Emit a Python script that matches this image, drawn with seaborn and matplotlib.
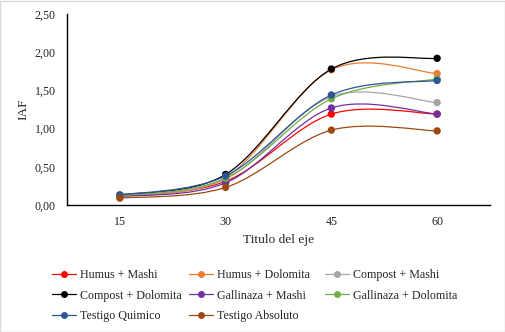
import numpy as np
import pandas as pd
import seaborn as sns
import matplotlib.pyplot as plt
from matplotlib.path import Path
from matplotlib.patches import PathPatch, Rectangle
from matplotlib.lines import Line2D

# Days after planting and leaf area index per treatment
dias = ["15", "30", "45", "60"]
humus_mashi = [0.12, 0.31, 1.19, 1.19]
humus_dolomita = [0.12, 0.36, 1.77, 1.72]
compost_mashi = [0.12, 0.34, 1.42, 1.34]
compost_dolomita = [0.13, 0.40, 1.78, 1.92]
gallinaza_mashi = [0.11, 0.29, 1.27, 1.19]
gallinaza_dolomita = [0.12, 0.35, 1.39, 1.65]
testigo_quimico = [0.13, 0.38, 1.44, 1.63]
testigo_absoluto = [0.09, 0.23, 0.98, 0.97]

tratamientos = ["Humus + Mashi", "Humus + Dolomita", "Compost + Mashi",
                "Compost + Dolomita", "Gallinaza + Mashi", "Gallinaza + Dolomita",
                "Testigo Quimico", "Testigo Absoluto"]
series = [humus_mashi, humus_dolomita, compost_mashi, compost_dolomita,
          gallinaza_mashi, gallinaza_dolomita, testigo_quimico, testigo_absoluto]
colores = ["#FF0000", "#ED7D31", "#A5A5A5", "#000000",
           "#7030A0", "#70AD47", "#2F5597", "#9E480E"]

df = pd.DataFrame([
    {"dia": d, "tratamiento": t, "IAF": v}
    for t, vals in zip(tratamientos, series)
    for d, v in zip(dias, vals)
])

sns.set_style("white")
plt.rcParams["font.family"] = ["Liberation Serif", "DejaVu Serif"]
FS = 8.64

fig = plt.figure(figsize=(5.06, 3.32), dpi=100)
ax = fig.add_axes([67 / 506, 1 - 205 / 332, 423 / 506, 191 / 332])

palette = dict(zip(tratamientos, colores))

# Smoothed connecting lines (Catmull-Rom as cubic Bezier segments)
def smooth_path(xs, ys):
    pts = np.column_stack([xs, ys]).astype(float)
    ext = np.vstack([pts[0], pts, pts[-1]])
    verts = [tuple(pts[0])]
    codes = [Path.MOVETO]
    for i in range(len(pts) - 1):
        p0, p1, p2, p3 = ext[i], ext[i + 1], ext[i + 2], ext[i + 3]
        c1 = p1 + (p2 - p0) / 6.0
        c2 = p2 - (p3 - p1) / 6.0
        verts += [tuple(c1), tuple(c2), tuple(p2)]
        codes += [Path.CURVE4] * 3
    return Path(verts, codes)

xpos = np.arange(len(dias))
for t in tratamientos:
    sub = df[df["tratamiento"] == t]
    patch = PathPatch(smooth_path(xpos, sub["IAF"].values), facecolor="none",
                      edgecolor=palette[t], lw=0.9, zorder=2)
    ax.add_patch(patch)

sns.scatterplot(data=df, x="dia", y="IAF", hue="tratamiento", palette=palette,
                s=28, edgecolor="none", linewidth=0, legend=False, ax=ax, zorder=3)

ax.set_xlim(-0.5, 3.5)
ax.set_ylim(0, 2.5)
ax.set_yticks(np.arange(0, 2.51, 0.5))
ax.set_yticklabels([f"{v:.2f}".replace(".", ",") for v in np.arange(0, 2.51, 0.5)],
                   fontsize=FS)
ax.set_xticks(xpos)
ax.set_xticklabels(dias, fontsize=FS)
ax.set_xticks(np.arange(-0.5, 3.6, 1), minor=True)
ax.tick_params(axis="x", which="major", length=0, pad=8)
ax.tick_params(axis="x", which="minor", length=5, width=1, direction="out", color="black")
ax.tick_params(axis="y", length=5, width=1, direction="out", color="black", pad=3)

for s in ["top", "right"]:
    ax.spines[s].set_visible(False)
for s in ["left", "bottom"]:
    ax.spines[s].set_color("black")
    ax.spines[s].set_linewidth(1)

ax.set_xlabel("Titulo del eje", fontsize=9.6, labelpad=4)
ax.set_ylabel("IAF", fontsize=9.6, labelpad=4)

# Legend laid out row by row in three columns
col_x = [52 / 506, 189 / 506, 325 / 506]
for c in range(3):
    idx = [i for i in range(c, len(tratamientos), 3)]
    handles = [Line2D([0], [0], color=colores[i], lw=0.9, marker="o",
                      markersize=5, markeredgewidth=0) for i in idx]
    fig.legend(handles, [tratamientos[i] for i in idx], loc="upper left",
               bbox_to_anchor=(col_x[c], 1 - 269 / 332), frameon=False,
               fontsize=FS, handlelength=2.0, handletextpad=0.3,
               labelspacing=0.72, borderpad=0, borderaxespad=0)

fig.patches.append(Rectangle((0.5 / 506, 0.5 / 332), 1 - 1.5 / 506, 1 - 1.5 / 332,
                             transform=fig.transFigure, fill=False,
                             edgecolor="#D9D9D9", lw=1))

fig.savefig("out.png", dpi=100)
